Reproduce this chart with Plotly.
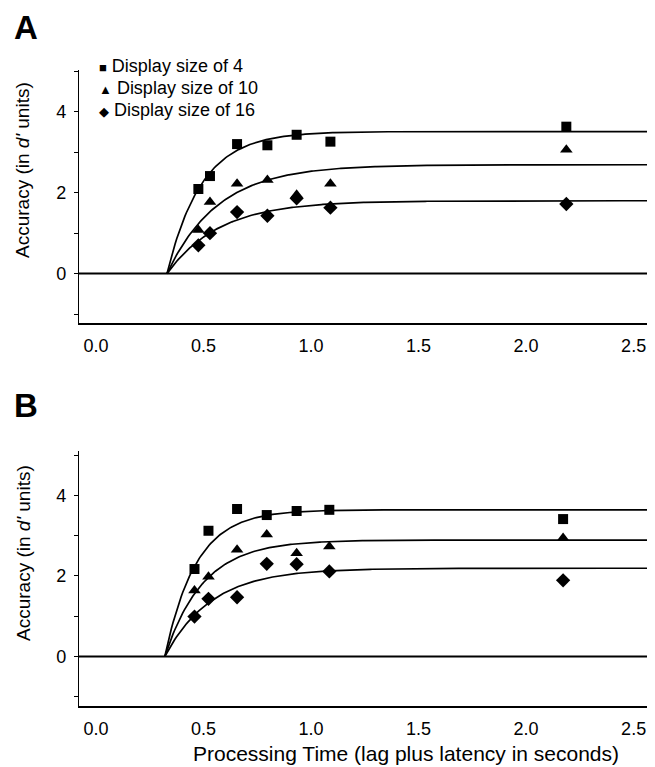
import numpy as np
import plotly.graph_objects as go

# ---------------- data ----------------
series_names = ["Display size of 4", "Display size of 10", "Display size of 16"]
legend_glyphs = ["\u25A0", "\u25B2", "\u25C6"]
marker_symbols = ["square", "triangle-up", "diamond"]
marker_sizes = [10, 11, 11]

# Panel A
time_A = [0.476, 0.530, 0.656, 0.797, 0.933, 1.090, 2.187]
size4_A = [2.09, 2.41, 3.20, 3.17, 3.43, 3.26, 3.63]
size10_A = [1.08, 1.77, 2.22, 2.31, 1.95, 2.22, 3.06]
size16_A = [0.70, 1.00, 1.52, 1.43, 1.86, 1.63, 1.72]

# Panel B
time_B = [0.458, 0.523, 0.656, 0.794, 0.933, 1.085, 2.172]
size4_B = [2.17, 3.12, 3.66, 3.51, 3.61, 3.64, 3.41]
size10_B = [1.64, 1.98, 2.65, 3.03, 2.56, 2.73, 2.94]
size16_B = [0.99, 1.43, 1.47, 2.30, 2.29, 2.11, 1.89]

# fitted curves: d'(t) = asymptote * (1 - exp(-rate * (t - intercept)))
asym_A = [3.51, 2.69, 1.80]
rate_A = [6.2, 4.2, 4.1]
intercept_A = 0.33
asym_B = [3.64, 2.89, 2.19]
rate_B = [6.9, 5.6, 4.6]
intercept_B = 0.32

x_tick_vals = [0.0, 0.5, 1.0, 1.5, 2.0, 2.5]
x_tick_text = ["0.0", "0.5", "1.0", "1.5", "2.0", "2.5"]
y_tick_vals = [-1, 0, 1, 2, 3, 4, 5]
y_tick_text = ["", "0", "", "2", "", "4", ""]

x_range = [-0.079, 2.59]
yA_range = [-1.22, 5.03]
yB_range = [-1.23, 5.10]

# ---------------- figure ----------------
W, H = 655, 767
FONT = "Liberation Sans, Arial, Helvetica, sans-serif"

fig = go.Figure()

panels = [
    ("x", "y", time_A, [size4_A, size10_A, size16_A], asym_A, rate_A, intercept_A),
    ("x2", "y2", time_B, [size4_B, size10_B, size16_B], asym_B, rate_B, intercept_B),
]

for xa, ya, tt, series, asym, rate, icpt in panels:
    t_curve = np.linspace(icpt, x_range[1], 300)
    for k in range(3):
        d_curve = asym[k] * (1 - np.exp(-rate[k] * (t_curve - icpt)))
        fig.add_trace(go.Scatter(
            x=t_curve, y=d_curve, mode="lines", xaxis=xa, yaxis=ya,
            line=dict(color="black", width=1.7), showlegend=False, hoverinfo="skip"))
    for k in range(3):
        fig.add_trace(go.Scatter(
            x=tt, y=series[k], mode="markers", xaxis=xa, yaxis=ya,
            name=series_names[k],
            marker=dict(symbol=marker_symbols[k], size=marker_sizes[k], color="black"),
            showlegend=False))

def px_x(p):
    return p / W

def px_y(p):
    return 1 - p / H

axis_common = dict(showgrid=False, zeroline=False, showline=True, linecolor="black",
                   tickfont=dict(family=FONT, size=18, color="black"))

xaxis_style = dict(domain=[px_x(71), px_x(645)], range=x_range,
                   tickvals=x_tick_vals, ticktext=x_tick_text,
                   ticks="outside", ticklen=2, tickcolor="rgba(0,0,0,0)",
                   ticklabelstandoff=3, linewidth=2, **axis_common)
yaxis_style = dict(tickvals=y_tick_vals, ticktext=y_tick_text, ticks="outside", ticklen=4,
                   tickcolor="black", ticklabelstandoff=4, linewidth=1.3, **axis_common)

fig.update_layout(
    width=W, height=H,
    margin=dict(l=0, r=0, t=0, b=0),
    paper_bgcolor="white", plot_bgcolor="white",
    font=dict(family=FONT, color="black"),
    xaxis=dict(anchor="y", **xaxis_style),
    yaxis=dict(domain=[px_y(315), px_y(62)], range=yA_range, anchor="x", **yaxis_style),
    xaxis2=dict(anchor="y2", **xaxis_style),
    yaxis2=dict(domain=[px_y(698), px_y(443)], range=yB_range, anchor="x2", **yaxis_style),
)

# zero lines across each panel
for ya, xa in [("y", "x"), ("y2", "x2")]:
    fig.add_shape(type="line", xref=f"{xa} domain", yref=ya, x0=0, x1=1, y0=0, y1=0,
                  line=dict(color="black", width=2))

annotations = []
# panel letters
for letter, y in [("A", 20), ("B", 397)]:
    annotations.append(dict(text=f"<b>{letter}</b>", x=px_x(18), y=px_y(y), xref="paper", yref="paper",
                            xanchor="center", yanchor="middle", showarrow=False,
                            font=dict(family="Liberation Sans, Arial, sans-serif", size=33, color="black")))
# y-axis titles
for y in [162, 545]:
    annotations.append(dict(text="Accuracy (in <i>d'</i> units)", x=px_x(15), y=px_y(y),
                            xref="paper", yref="paper", textangle=-90,
                            xanchor="center", yanchor="middle", showarrow=False,
                            font=dict(family=FONT, size=19, color="black")))
# x-axis title
annotations.append(dict(text="Processing Time (lag plus latency in seconds)", x=px_x(398), y=px_y(745),
                        xref="paper", yref="paper", xanchor="center", yanchor="middle", showarrow=False,
                        font=dict(family=FONT, size=21, color="black")))
# legend
for k, yy in enumerate([58, 80, 102]):
    annotations.append(dict(text=f"<span style='font-size:13px'>{legend_glyphs[k]}</span> {series_names[k]}",
                            x=px_x(89), y=px_y(yy),
                            xref="paper", yref="paper", xanchor="left", yanchor="middle", showarrow=False,
                            font=dict(family=FONT, size=18, color="black")))

fig.update_layout(annotations=annotations)

fig.write_html("out.html")
